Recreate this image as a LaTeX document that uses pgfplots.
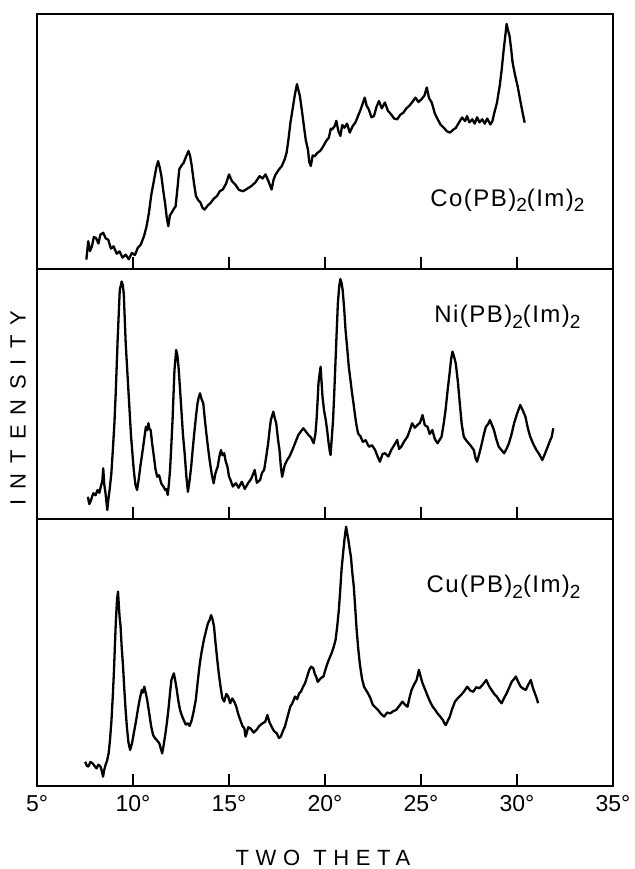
\documentclass[border=0pt]{standalone}
\usepackage{fontspec}
\setmainfont{Liberation Sans}
\usepackage{pgfplots}
\pgfplotsset{compat=1.18}
\newcommand{\sub}[1]{\raisebox{-0.45ex}{\fontsize{9.5}{9.5}\selectfont #1}}
\newcommand{\lbl}[2]{{\fontsize{12}{14}\selectfont\addfontfeature{LetterSpace=6}#1(PB)\sub{2}(Im)\sub{2}}}
\begin{document}
\begin{tikzpicture}
\pgfplotsset{
  panel/.style={scale only axis, width=288pt, xmin=5, xmax=35, ymin=0, ymax=100,
    ytick=\empty, xtick={5,10,15,20,25,30,35}, xtick pos=left, tick align=inside,
    major tick length=6pt, axis line style={line width=1.1pt, black},
    every tick/.style={line width=0.9pt, black}, xticklabels={}},
  trace/.style={black, line width=1.15pt, line join=round, no markers}
}
% ---------------- Co ----------------
\begin{axis}[panel, name=top, height=127.5pt, at={(0,0)}, anchor=north west]
\addplot[trace] coordinates {
(7.57,3.7)(7.67,10.9)(7.76,7.0)(7.86,8.9)(7.96,12.5)(8.07,12.2)(8.2,10.0)(8.3,13.5)(8.45,14.2)(8.58,12.0)
(8.71,11.5)(8.85,8.0)(8.99,8.9)(9.15,6.0)(9.30,6.9)(9.45,4.5)(9.62,5.6)(9.78,3.8)(9.94,6.3)(10.10,5.5)
(10.25,8.3)(10.40,9.5)(10.57,12.8)(10.70,16.5)(10.83,22.0)(10.95,29.0)(11.10,35.1)(11.22,40.0)(11.31,42.3)(11.40,39.5)
(11.48,36.4)(11.58,30.5)(11.67,25.9)(11.76,20.0)(11.84,16.8)(11.92,21.0)(12.01,22.0)(12.12,23.5)(12.22,24.6)(12.32,32.0)
(12.41,39.1)(12.52,40.5)(12.64,41.7)(12.76,44.0)(12.89,46.3)(12.97,44.5)(13.06,40.4)(13.17,34.0)(13.28,28.6)(13.40,27.0)
(13.52,26.0)(13.62,24.0)(13.73,23.3)(13.88,24.8)(14.05,26.0)(14.20,27.5)(14.37,28.6)(14.52,30.5)(14.68,31.2)(14.85,33.5)
(15.00,37.1)(15.15,34.5)(15.32,33.2)(15.52,31.0)(15.74,30.5)(15.95,31.5)(16.16,32.5)(16.38,34.0)(16.59,36.4)(16.75,35.5)
(16.90,37.1)(17.05,34.5)(17.22,31.2)(17.32,35.0)(17.43,37.1)(17.60,39.0)(17.75,40.4)(17.90,43.0)(18.00,45.6)(18.10,51.0)
(18.20,57.4)(18.32,63.0)(18.42,67.9)(18.54,72.5)(18.62,70.0)(18.69,67.9)(18.80,62.0)(18.90,56.1)(19.00,50.5)(19.11,46.9)
(19.18,42.0)(19.26,40.4)(19.36,44.5)(19.47,44.3)(19.60,45.5)(19.75,46.3)(19.90,48.0)(20.06,50.2)(20.20,51.5)(20.30,55.0)
(20.38,54.8)(20.50,56.0)(20.59,58.1)(20.70,54.0)(20.80,52.2)(20.90,56.5)(21.01,55.4)(21.15,57.0)(21.29,53.5)(21.44,56.0)
(21.58,57.4)(21.72,60.0)(21.86,62.6)(21.97,65.0)(22.07,67.2)(22.17,64.0)(22.28,62.6)(22.42,59.5)(22.55,60.0)(22.68,63.5)
(22.81,65.9)(22.96,63.0)(23.12,65.3)(23.28,62.0)(23.44,60.7)(23.60,59.0)(23.76,58.7)(23.92,60.5)(24.08,61.3)(24.24,63.0)
(24.39,64.0)(24.55,65.5)(24.71,67.2)(24.87,65.5)(25.03,66.6)(25.18,68.0)(25.30,71.2)(25.42,67.0)(25.56,65.3)(25.72,61.0)
(25.87,58.7)(26.03,56.5)(26.19,55.4)(26.35,54.0)(26.51,53.5)(26.66,54.5)(26.82,55.4)(26.98,57.5)(27.14,59.4)(27.30,58.0)
(27.40,60.0)(27.52,57.5)(27.67,58.7)(27.80,57.0)(27.92,59.5)(28.05,57.5)(28.19,58.7)(28.32,57.0)(28.45,59.0)(28.61,56.7)
(28.72,58.0)(28.82,61.3)(28.95,65.0)(29.10,71.8)(29.20,78.0)(29.31,86.2)(29.40,92.0)(29.46,96.1)(29.52,94.0)(29.61,91.5)
(29.70,86.0)(29.77,81.0)(29.90,76.0)(30.03,71.8)(30.19,65.3)(30.30,61.0)(30.40,57.4)
};
\node at (axis cs:29.5,27) {\lbl{Co}{}};
\end{axis}
% ---------------- Ni ----------------
\begin{axis}[panel, name=mid, height=125pt, at={(top.south west)}, anchor=north west]
\addplot[trace] coordinates {
(7.65,8.9)(7.72,6.0)(7.79,7.0)(7.87,9.0)(7.94,10.3)(8.05,9.5)(8.15,11.6)(8.25,10.5)(8.32,12.9)(8.40,15.0)
(8.45,20.3)(8.50,14.0)(8.57,10.3)(8.66,3.6)(8.72,8.0)(8.78,11.6)(8.87,18.0)(8.95,27.6)(9.03,38.0)(9.10,50.3)
(9.20,71.6)(9.31,91.6)(9.41,95.0)(9.47,93.5)(9.52,90.0)(9.62,70.3)(9.75,52.9)(9.90,32.9)(10.04,19.6)(10.12,14.0)
(10.21,11.6)(10.30,16.0)(10.38,20.9)(10.53,28.9)(10.67,36.9)(10.74,35.5)(10.80,38.3)(10.86,36.0)(10.92,35.6)(11.00,30.0)
(11.09,24.9)(11.17,20.0)(11.26,16.9)(11.36,17.5)(11.47,14.3)(11.58,13.0)(11.68,11.6)(11.75,12.0)(11.81,9.6)(11.87,14.0)
(11.93,19.6)(12.00,30.0)(12.06,39.6)(12.16,59.6)(12.25,67.6)(12.31,65.5)(12.37,60.9)(12.45,52.0)(12.52,43.6)(12.60,34.0)
(12.69,26.3)(12.78,17.0)(12.86,10.9)(12.94,15.0)(13.03,20.9)(13.10,27.0)(13.19,34.3)(13.28,41.0)(13.36,46.3)(13.42,48.5)
(13.49,50.3)(13.57,48.0)(13.66,46.3)(13.74,40.0)(13.82,34.3)(13.90,29.0)(13.99,23.6)(14.10,18.0)(14.20,14.3)(14.30,18.5)
(14.41,20.9)(14.50,25.0)(14.58,27.6)(14.66,25.5)(14.75,26.3)(14.83,23.0)(14.92,20.9)(15.00,17.0)(15.08,15.6)(15.20,13.0)
(15.36,14.3)(15.50,12.5)(15.67,14.9)(15.82,12.0)(15.99,14.3)(16.15,16.0)(16.34,19.6)(16.45,14.5)(16.62,15.6)(16.72,18.5)
(16.83,19.6)(16.94,25.0)(17.04,30.3)(17.12,36.0)(17.18,39.6)(17.31,42.9)(17.38,40.5)(17.46,38.3)(17.55,32.0)(17.63,27.6)
(17.70,21.0)(17.77,16.9)(17.90,21.5)(18.03,23.6)(18.15,25.0)(18.30,27.6)(18.45,30.5)(18.61,33.6)(18.74,35.0)(18.87,36.3)
(19.00,35.0)(19.14,33.6)(19.28,32.5)(19.41,30.3)(19.50,34.0)(19.56,39.6)(19.62,48.0)(19.66,54.3)(19.72,58.0)(19.77,60.9)
(19.82,55.0)(19.87,48.9)(19.95,43.5)(20.04,39.6)(20.12,35.0)(20.19,30.3)(20.25,27.0)(20.29,25.6)(20.35,32.0)(20.42,39.6)
(20.48,50.0)(20.55,63.6)(20.61,75.0)(20.67,86.3)(20.74,93.0)(20.80,96.0)(20.86,94.5)(20.92,91.6)(21.00,84.0)(21.07,75.6)
(21.16,68.0)(21.24,60.9)(21.32,56.0)(21.41,50.3)(21.48,46.5)(21.55,42.3)(21.63,38.0)(21.72,34.3)(21.85,33.0)(21.97,30.9)
(22.12,31.5)(22.29,28.9)(22.45,29.5)(22.61,27.6)(22.74,25.0)(22.86,22.9)(23.00,26.0)(23.13,26.3)(23.30,25.0)(23.45,27.6)
(23.60,29.5)(23.76,31.6)(23.86,28.0)(23.97,28.9)(24.12,31.0)(24.29,32.9)(24.42,35.5)(24.54,38.3)(24.68,36.5)(24.81,37.6)
(24.95,38.5)(25.08,41.6)(25.20,37.5)(25.34,36.9)(25.45,34.0)(25.59,35.6)(25.72,32.0)(25.86,30.3)(25.96,31.5)(26.07,32.9)
(26.18,38.0)(26.28,43.6)(26.38,51.0)(26.49,58.3)(26.57,64.0)(26.64,67.0)(26.72,65.0)(26.81,62.3)(26.92,55.0)(27.02,46.3)
(27.12,38.0)(27.23,32.9)(27.35,31.5)(27.48,30.3)(27.62,29.0)(27.75,27.6)(27.85,24.0)(27.92,22.9)(28.05,26.5)(28.17,30.3)
(28.28,34.0)(28.38,36.9)(28.50,38.0)(28.59,39.6)(28.70,37.5)(28.80,35.6)(28.92,32.0)(29.05,28.9)(29.20,27.5)(29.33,26.3)
(29.45,28.0)(29.58,30.3)(29.72,34.0)(29.85,38.3)(30.00,42.0)(30.17,45.6)(30.30,43.5)(30.44,40.9)(30.56,36.5)(30.69,32.9)
(30.85,30.0)(31.01,27.6)(31.15,26.0)(31.32,23.6)(31.45,26.0)(31.60,28.9)(31.70,31.0)(31.81,32.9)(31.89,36.3)
};
\node at (axis cs:29.5,81) {\lbl{Ni}{}};
\end{axis}
% ---------------- Cu ----------------
\begin{axis}[panel, name=bot, height=133.5pt, at={(mid.south west)}, anchor=north west,
  xticklabels={5°,10°,15°,20°,25°,30°,35°},
  xticklabel style={font=\fontsize{11.5}{13}\selectfont, yshift=-1pt}]
\addplot[trace] coordinates {
(7.51,9.1)(7.60,7.5)(7.68,7.3)(7.78,9.0)(7.89,8.5)(8.00,7.5)(8.10,6.6)(8.20,8.0)(8.31,7.3)(8.38,5.5)
(8.44,3.5)(8.50,6.0)(8.57,7.9)(8.65,9.5)(8.73,12.2)(8.80,17.0)(8.88,24.7)(8.95,34.0)(9.01,43.4)(9.06,53.0)
(9.11,62.2)(9.17,70.0)(9.22,72.8)(9.26,68.0)(9.30,63.4)(9.35,60.0)(9.41,52.2)(9.48,45.0)(9.54,37.2)(9.61,29.0)
(9.68,22.2)(9.76,16.5)(9.85,13.5)(9.95,16.0)(10.04,19.7)(10.15,24.0)(10.25,28.5)(10.35,32.5)(10.46,36.0)(10.52,35.0)
(10.59,37.2)(10.66,35.0)(10.74,32.2)(10.85,27.0)(10.95,22.2)(11.05,19.0)(11.16,17.8)(11.26,17.0)(11.37,16.0)(11.45,14.0)
(11.52,12.2)(11.60,15.5)(11.69,19.7)(11.78,24.5)(11.86,29.7)(11.93,35.0)(12.00,39.7)(12.06,41.0)(12.13,42.2)(12.20,39.5)
(12.28,36.0)(12.36,32.0)(12.45,28.5)(12.54,26.5)(12.64,24.7)(12.75,23.0)(12.85,23.5)(12.95,22.5)(13.06,24.7)(13.16,28.0)
(13.27,32.2)(13.37,39.0)(13.48,45.9)(13.58,50.5)(13.69,54.7)(13.80,58.0)(13.90,60.9)(13.98,62.0)(14.07,64.0)(14.14,62.5)
(14.22,59.7)(14.30,53.5)(14.39,47.2)(14.47,42.0)(14.56,37.2)(14.65,33.0)(14.75,31.6)(14.86,34.5)(14.96,33.5)(15.06,31.0)
(15.17,32.8)(15.28,31.5)(15.38,29.7)(15.48,27.0)(15.59,24.7)(15.70,22.5)(15.80,21.6)(15.86,18.5)(15.91,19.5)(16.00,22.0)
(16.12,21.6)(16.28,20.0)(16.43,21.0)(16.58,22.5)(16.75,23.5)(16.88,24.0)(17.00,26.6)(17.10,24.0)(17.22,22.2)(17.35,20.5)
(17.49,19.7)(17.60,18.0)(17.70,18.5)(17.80,20.5)(17.91,22.2)(18.05,26.0)(18.19,29.7)(18.30,31.0)(18.44,33.5)(18.55,32.5)
(18.65,34.7)(18.76,35.5)(18.86,37.2)(18.96,38.5)(19.07,41.0)(19.18,43.5)(19.28,44.7)(19.39,44.1)(19.47,42.0)(19.54,41.0)
(19.62,39.0)(19.70,39.7)(19.80,40.5)(19.92,41.0)(20.02,43.5)(20.13,46.0)(20.24,48.0)(20.34,49.7)(20.45,52.0)(20.55,54.7)
(20.64,60.0)(20.72,65.9)(20.79,73.0)(20.86,80.9)(20.94,87.0)(21.01,92.1)(21.06,95.0)(21.10,97.1)(21.16,94.5)(21.22,92.1)
(21.28,89.0)(21.35,85.9)(21.42,80.0)(21.50,74.7)(21.58,66.0)(21.65,58.4)(21.73,51.5)(21.81,46.0)(21.92,40.5)(22.03,37.2)
(22.13,36.0)(22.24,34.7)(22.36,33.0)(22.49,30.4)(22.62,29.5)(22.76,28.5)(22.92,27.0)(23.08,26.0)(23.24,27.5)(23.40,27.2)
(23.55,28.0)(23.71,28.5)(23.87,30.0)(24.03,31.6)(24.16,30.5)(24.30,29.7)(24.40,33.0)(24.51,36.0)(24.64,38.0)(24.77,39.7)
(24.83,41.5)(24.89,43.5)(24.98,41.0)(25.08,38.5)(25.22,36.0)(25.36,33.5)(25.48,31.5)(25.61,29.7)(25.74,28.5)(25.86,27.2)
(26.00,26.0)(26.14,24.7)(26.22,23.5)(26.29,22.8)(26.40,24.5)(26.50,26.0)(26.63,29.0)(26.77,31.6)(26.93,33.0)(27.09,34.1)
(27.25,35.5)(27.41,37.2)(27.56,35.8)(27.72,35.3)(27.88,37.0)(28.04,36.6)(28.22,38.0)(28.40,39.7)(28.54,37.5)(28.67,36.0)
(28.81,34.5)(28.95,33.5)(29.08,32.0)(29.20,31.0)(29.33,33.0)(29.46,34.7)(29.60,37.0)(29.73,39.1)(29.84,40.0)(29.94,41.0)
(30.06,39.0)(30.19,37.2)(30.32,36.5)(30.46,36.0)(30.59,38.0)(30.72,39.7)(30.82,37.0)(30.93,34.7)(31.02,33.0)(31.10,31.0)
};
\node at (axis cs:29.3,74.5) {\lbl{Cu}{}};
\end{axis}
\node[rotate=90, font=\fontsize{11}{13}\selectfont\addfontfeature{LetterSpace=45}] at (-9.5pt,-197pt) {INTENSITY};
\node[font=\fontsize{11}{13}\selectfont\addfontfeature{LetterSpace=30}] at (143pt,-422pt) {TWO\hspace{0.6em}THETA};
\pgfresetboundingbox
\path (-18.5pt,7pt) rectangle (299pt,-427.5pt);
\end{tikzpicture}
\end{document}
